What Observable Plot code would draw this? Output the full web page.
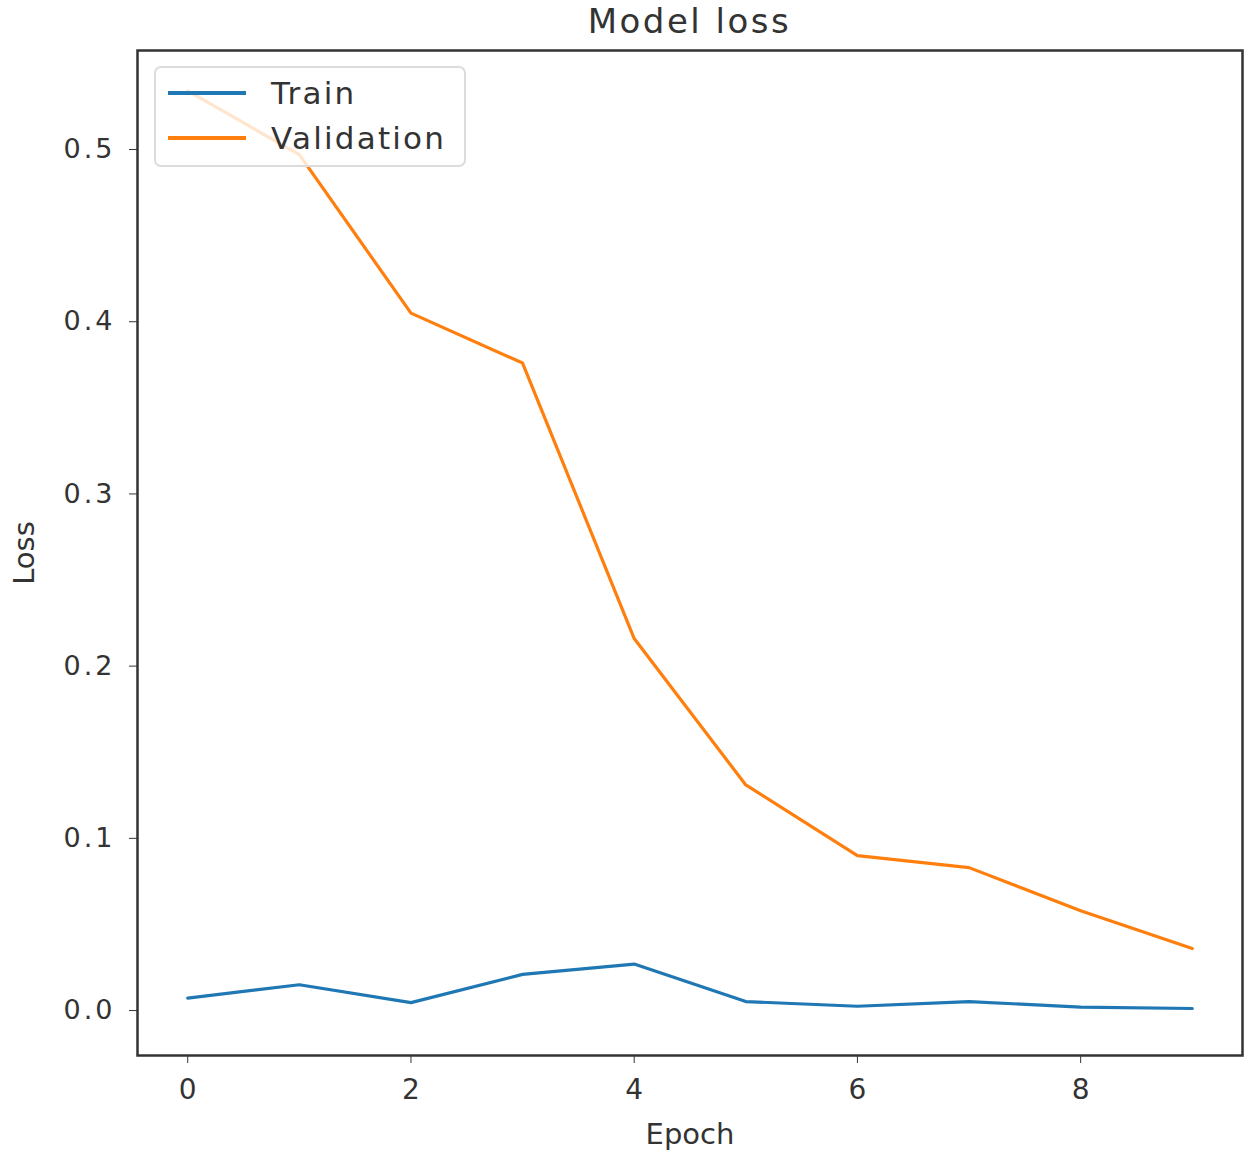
<!DOCTYPE html>
<html>
<head>
<meta charset="utf-8">
<script src="https://cdn.jsdelivr.net/npm/d3@7"></script>
<script src="https://cdn.jsdelivr.net/npm/@observablehq/plot@0.6"></script>
<style>
  html, body { margin: 0; padding: 0; background: #fff; }
  body { width: 1250px; height: 1157px; position: relative; font-family: "DejaVu Sans", sans-serif; color: #333; }
  #title { height: 45px; line-height: 42px; margin-left: 137px; width: 1105px; text-align: center; font-size: 34px; letter-spacing: 2.5px; color: #333; }
  #legend { position: absolute; left: 154px; top: 66px; width: 312px; height: 101px; background: rgba(255,255,255,0.8); border: 2px solid #dcdcdc; border-radius: 7px; box-sizing: border-box; }
  .row { position: absolute; left: 0; height: 40px; display: flex; align-items: center; }
  .sw { position: absolute; left: 12px; width: 78px; height: 3.5px; }
  .lab { position: absolute; left: 115px; font-size: 31px; letter-spacing: 2.2px; white-space: nowrap; color: #333; }
</style>
</head>
<body>
<div id="title">Model loss</div>
<div id="chart"></div>
<div id="legend"></div>
<script>
const epochs = [0, 1, 2, 3, 4, 5, 6, 7, 8, 9];
const trainLoss = [0.0072, 0.015, 0.0046, 0.021, 0.027, 0.0052, 0.0025, 0.0052, 0.002, 0.0012];
const valLoss = [0.534, 0.497, 0.405, 0.376, 0.216, 0.131, 0.090, 0.083, 0.058, 0.036];
const seriesNames = ["Train", "Validation"];
const seriesColors = ["#1f77b4", "#ff7f0e"];
const xTicks = [0, 2, 4, 6, 8];
const yTicks = [0.0, 0.1, 0.2, 0.3, 0.4, 0.5];

const data = [];
epochs.forEach((e, i) => {
  data.push({epoch: e, loss: trainLoss[i], series: seriesNames[0]});
});
epochs.forEach((e, i) => {
  data.push({epoch: e, loss: valLoss[i], series: seriesNames[1]});
});

const chart = Plot.plot({
  width: 1250,
  height: 1112,
  marginTop: 5,
  marginBottom: 102,
  marginLeft: 137,
  marginRight: 8,
  style: {fontFamily: "DejaVu Sans, sans-serif", color: "#333", background: "#fff"},
  x: {domain: [-0.45, 9.45]},
  y: {domain: [-0.0261, 0.5575]},
  color: {domain: seriesNames, range: seriesColors},
  marks: [
    Plot.line(data, {x: "epoch", y: "loss", stroke: "series", strokeWidth: 3.2, z: "series"}),
    Plot.frame({stroke: "#333", strokeWidth: 2.5}),
    Plot.axisX(xTicks, {tickSize: 8, tickPadding: 16, fontSize: 28, stroke: "#333", fill: "#333", label: "Epoch", labelAnchor: "center", labelArrow: "none", labelOffset: 88}),
    Plot.axisY(yTicks, {tickSize: 8, tickPadding: 14, fontSize: 27, tickFormat: d3.format(".1f"), stroke: "#333", fill: "#333", label: "Loss", labelAnchor: "center", labelArrow: "none", labelOffset: 124})
  ]
});
document.getElementById("chart").appendChild(chart);

// widen the text a little, as in the reference
d3.select(chart).selectAll("g[aria-label='y-axis tick label'] text").style("letter-spacing", "3px");
d3.select(chart).selectAll("g[aria-label='x-axis label'] text, g[aria-label='y-axis label'] text").style("font-size", "29px");

const legend = document.getElementById("legend");
seriesNames.forEach((name, i) => {
  const row = document.createElement("div");
  row.className = "row";
  row.style.top = (5 + i * 45) + "px";
  row.style.width = "100%";
  const sw = document.createElement("div");
  sw.className = "sw";
  sw.style.background = seriesColors[i];
  const lab = document.createElement("div");
  lab.className = "lab";
  lab.textContent = name;
  row.appendChild(sw);
  row.appendChild(lab);
  legend.appendChild(row);
});
</script>
</body>
</html>
